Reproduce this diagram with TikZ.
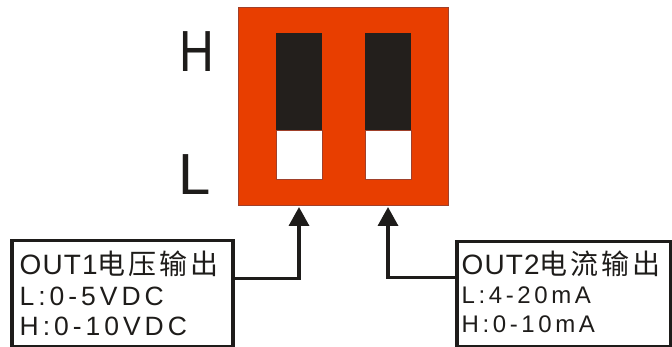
\documentclass[tikz,border=0pt]{standalone}
\usepackage{fontspec}
\setmainfont{Liberation Sans}
\newfontfamily\cjk[LetterSpace=10]{Noto Sans CJK SC}
\newfontfamily\spaced[LetterSpace=15]{Liberation Sans}
\newfontfamily\headsp[LetterSpace=4]{Liberation Sans}
\usetikzlibrary{arrows.meta}
\definecolor{sworange}{HTML}{E83E00}
\definecolor{swblack}{HTML}{231F1C}
\definecolor{swedge}{HTML}{A0402A}
\definecolor{ink}{HTML}{1E1C1A}
\tikzset{
  switchbody/.style={draw=swedge, line width=0.8pt, fill=sworange, inner sep=0pt, anchor=north west},
  leverH/.style={fill=swblack, inner sep=0pt, anchor=north west, minimum width=46pt, minimum height=97pt},
  leverL/.style={fill=white, draw=swedge, line width=0.6pt, inner sep=0pt, anchor=north west, minimum width=46pt, minimum height=49pt},
  infobox/.style={draw=ink, line width=3.5pt, inner sep=0pt, anchor=north west},
  boxtext/.style={inner sep=0pt, anchor=base west, text=ink},
  biglabel/.style={inner sep=0pt, anchor=base, text=ink, font=\fontsize{58}{60}\selectfont},
  conn/.style={draw=ink, line width=3.5pt, -{Triangle[width=20pt,length=19pt]}}
}
\begin{document}
\begin{tikzpicture}[x=1pt,y=-1pt]
\useasboundingbox (0,0) rectangle (672,347);
\node[switchbody, minimum width=210pt, minimum height=198pt] (sw) at (238,7) {};
\node[leverH] (h1) at (276,33) {};
\node[leverL] (l1) at (276,130) {};
\node[leverH] (h2) at (365,33) {};
\node[leverL] (l2) at (365,130) {};
\node[biglabel, xscale=0.83] (labH) at (196.5,72) {H};
\node[biglabel] (labL) at (195,195) {L};
\node[infobox, minimum width=221pt, minimum height=106pt] (out1) at (10,239) {};
\node[infobox, minimum width=214pt, minimum height=105pt] (out2) at (455,240) {};
\node[boxtext, font=\headsp\fontsize{28}{30}\selectfont] (t11) at (19.5,275) {OUT1{\cjk\fontsize{28}{30}\selectfont 电压输出}};
\node[boxtext, font=\spaced\fontsize{26.5}{28}\selectfont] (t12) at (19.5,306) {L:0-5VDC};
\node[boxtext, font=\spaced\fontsize{26.5}{28}\selectfont] (t13) at (19.5,335) {H:0-10VDC};
\node[boxtext, font=\headsp\fontsize{28}{30}\selectfont] (t21) at (461.5,275) {OUT2{\cjk\fontsize{28}{30}\selectfont 电流输出}};
\node[boxtext, font=\spaced\fontsize{24}{26}\selectfont] (t22) at (461.5,304) {L:4-20mA};
\node[boxtext, font=\spaced\fontsize{24}{26}\selectfont] (t23) at (461.5,332) {H:0-10mA};
\coordinate (tip1) at (299,207);
\coordinate (tip2) at (388,207);
\draw[conn] ([yshift=15pt]out1.east) -| (tip1);
\draw[conn] ([yshift=16.5pt]out2.west) -| (tip2);
\end{tikzpicture}
\end{document}
